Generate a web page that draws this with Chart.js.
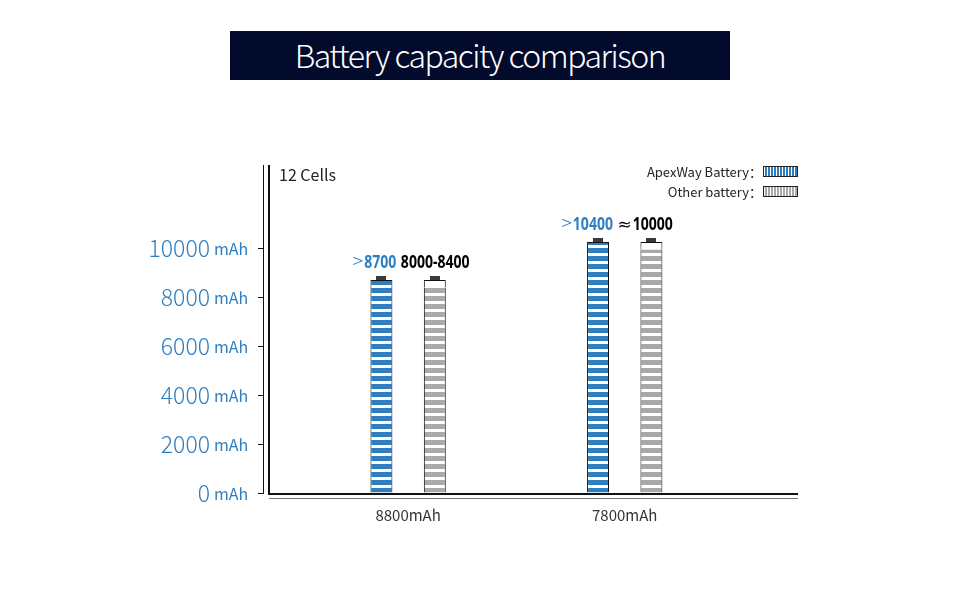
<!DOCTYPE html>
<html>
<head>
<meta charset="utf-8">
<script src="https://cdn.jsdelivr.net/npm/chart.js@4.4.0/dist/chart.umd.min.js"></script>
<style>
  html, body { margin: 0; padding: 0; background: #fff; }
  #wrap { position: relative; width: 960px; height: 600px; }
  #wrap canvas { position: absolute; left: 0; top: 0; }
  #title {
    position: absolute; left: 230px; top: 31px; width: 500px; height: 49px;
    background: #020b2c; color: #fff; text-align: center; line-height: 46px;
    font-family: "Noto Sans CJK SC", "Noto Sans", sans-serif; font-weight: 300;
    font-size: 32px; letter-spacing: -1.5px;
  }
</style>
</head>
<body>
<div id="wrap">
  <canvas id="chart" width="960" height="600"></canvas>
  <div id="title">Battery capacity comparison</div>
</div>
<script>
// data
const categories = ["8800mAh", "7800mAh"];
const apexValues = [8700, 10250];      // ApexWay battery, full shell
const otherShell = [8700, 10250];      // other battery shell height
const otherFill = [8400, 9950];        // other battery striped level
const apexLabels = [">8700", ">10400"];
const otherLabels = ["8000-8400", "≈10000"];
const yTicks = [0, 2000, 4000, 6000, 8000, 10000];
const legendNames = ["ApexWay Battery：", "Other battery："];

const BLUE = "#2f7ec0", GRAY = "#a9a9a9", INK = "#111", TXT = "#333";
const CJK = '"Noto Sans CJK SC", "Noto Sans", sans-serif';
const BOLDNUM = '"Noto Sans", sans-serif';

const ctx = document.getElementById("chart").getContext("2d");

function stripes(color, vertical) {
  const c = document.createElement("canvas");
  c.width = vertical ? 3 : 1;
  c.height = vertical ? 1 : 8;
  const g = c.getContext("2d");
  g.fillStyle = "#fff";
  g.fillRect(0, 0, c.width, c.height);
  g.fillStyle = color;
  if (vertical) g.fillRect(0, 0, 2, 1);
  else g.fillRect(0, 0, 1, 5);
  return ctx.createPattern(c, "repeat");
}

const blueH = stripes(BLUE, false), grayH = stripes(GRAY, false);
const blueV = stripes(BLUE, true), grayV = stripes(GRAY, true);

const pts = arr => arr.map((v, i) => ({ x: i + 1, y: v }));

// frame, caps, value labels, legend, "12 Cells"
const decor = {
  id: "decor",
  afterDatasetsDraw(chart) {
    const c = chart.ctx, a = chart.chartArea;
    c.save();
    // frame
    c.fillStyle = INK;
    c.fillRect(a.left + 5, a.top, 2, a.bottom - a.top + 2);
    c.fillRect(a.left + 5, a.bottom, a.right - a.left - 5, 2);
    c.fillStyle = "#777";
    c.fillRect(a.left + 6, a.bottom + 5, a.right - a.left - 6, 1);

    // caps on top of each battery
    c.fillStyle = "#3a3a3a";
    [0, 2].forEach(di => {
      chart.getDatasetMeta(di).data.forEach(el => {
        c.fillRect(Math.round(el.x - 5), Math.round(el.y - 4), 10, 4);
      });
    });

    // value labels: light symbol + bold condensed number
    const SX = 0.78;
    const symFont = s => s === "≈" ? '17px "DejaVu Sans", sans-serif' : "300 20px " + CJK;
    function label(text, x, y, align, color) {
      let sym = "", num = text;
      if (!/[0-9]/.test(text[0])) { sym = text[0]; num = text.slice(1); }
      c.textBaseline = "alphabetic";
      c.textAlign = "left";
      c.font = symFont(sym);
      const ws = sym ? c.measureText(sym).width + 1 : 0;
      c.font = "bold 18px " + BOLDNUM;
      const wn = c.measureText(num).width * SX;
      const x0 = align === "right" ? x - ws - wn : x;
      c.fillStyle = color;
      if (sym) {
        c.font = symFont(sym);
        c.fillText(sym, x0, y);
      }
      c.save();
      c.translate(x0 + ws, y);
      c.scale(SX, 1);
      c.font = "bold 18px " + BOLDNUM;
      c.fillText(num, 0, 0);
      c.restore();
    }
    chart.getDatasetMeta(0).data.forEach((el, i) => {
      label(apexLabels[i], el.x + el.width / 2 + 4, el.y - 12, "right", BLUE);
    });
    chart.getDatasetMeta(2).data.forEach((el, i) => {
      label(otherLabels[i], el.x - el.width / 2 - 23, el.y - 12, "left", "#000");
    });

    // "12 Cells"
    c.fillStyle = "#222";
    c.font = "16px " + CJK;
    c.textAlign = "left";
    c.textBaseline = "middle";
    c.fillText("12 Cells", a.left + 16, a.top + 10);

    // legend
    [blueV, grayV].forEach((pat, i) => {
      const bx = a.right - 35, by = a.top + 1 + i * 20;
      c.fillStyle = "#222";
      c.fillRect(bx, by, 35, 11);
      c.fillStyle = pat;
      c.fillRect(bx + 1, by + 1, 33, 9);
      c.fillStyle = "#222";
      c.font = "13px " + CJK;
      c.textAlign = "right";
      c.textBaseline = "middle";
      c.fillText(legendNames[i], bx - 1, by + 6);
    });

    // "mAh" units next to y tick numbers
    const ys = chart.scales.y;
    c.fillStyle = BLUE;
    c.font = "16px " + CJK;
    c.textAlign = "left";
    c.textBaseline = "alphabetic";
    yTicks.forEach(v => {
      c.fillText("mAh", 214, ys.getPixelForValue(v) + 7);
    });
    c.restore();
  }
};

new Chart(ctx, {
  type: "bar",
  data: {
    datasets: [
      {
        label: "ApexWay Battery",
        data: pts(apexValues),
        stack: "a",
        backgroundColor: blueH,
        borderColor: INK,
        borderWidth: { top: 1, left: 1, right: 1, bottom: 0 },
        borderSkipped: false
      },
      {
        label: "Other battery",
        data: pts(otherFill),
        stack: "b",
        backgroundColor: grayH,
        borderColor: INK,
        borderWidth: { top: 0, left: 1, right: 1, bottom: 0 },
        borderSkipped: false
      },
      {
        label: "Other battery top",
        data: pts(otherShell.map((v, i) => v - otherFill[i])),
        stack: "b",
        backgroundColor: "#fff",
        borderColor: INK,
        borderWidth: { top: 1, left: 1, right: 1, bottom: 0 },
        borderSkipped: false
      }
    ]
  },
  options: {
    responsive: false,
    animation: false,
    categoryPercentage: 0.493,
    barPercentage: 0.411,
    layout: { padding: { left: 0, right: 162, top: 165, bottom: 0 } },
    plugins: { legend: { display: false }, tooltip: { enabled: false }, title: { display: false } },
    scales: {
      x: {
        type: "linear",
        offset: false,
        min: 0.33,
        max: 2.8,
        afterBuildTicks: s => { s.ticks = categories.map((c, i) => ({ value: i + 1 })); },
        afterFit: s => { s.height = 107; },
        border: { display: false },
        grid: { display: false, drawTicks: false },
        ticks: {
          padding: 13,
          color: TXT,
          font: { family: CJK, size: 15 },
          callback: v => categories[v - 1]
        }
      },
      y: {
        stacked: true,
        min: 0,
        max: 13400,
        afterBuildTicks: s => { s.ticks = yTicks.map(v => ({ value: v })); },
        afterFit: s => { s.width = 263; },
        border: { display: true, color: INK, width: 1 },
        grid: { drawOnChartArea: false, tickLength: 5, color: INK },
        ticks: {
          padding: 48,
          color: BLUE,
          font: { family: CJK, size: 23, weight: 300 },
          callback: v => String(v)
        }
      }
    }
  },
  plugins: [decor]
});
</script>
</body>
</html>
